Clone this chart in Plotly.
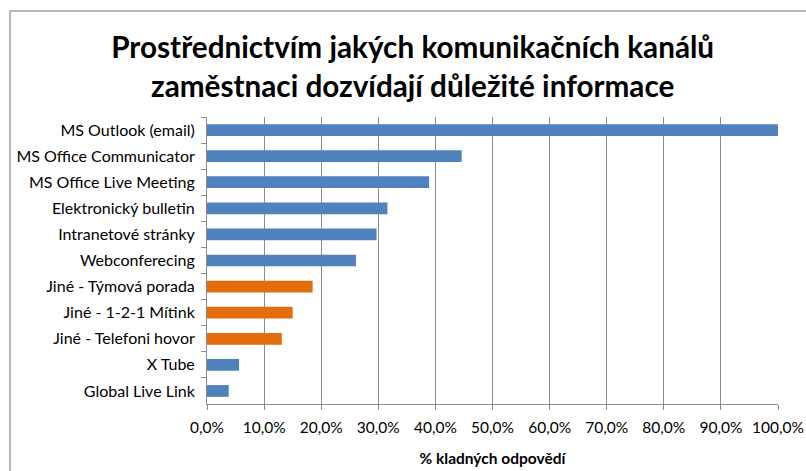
import plotly.graph_objects as go

# Channels and share of positive answers (%)
kanaly = ["MS Outlook (email)", "MS Office Communicator", "MS Office Live Meeting",
          "Elektronický bulletin", "Intranetové stránky", "Webconferecing",
          "Jiné - Týmová porada", "Jiné - 1-2-1 Mítink", "Jiné - Telefoni hovor",
          "X Tube", "Global Live Link"]
podil = [100.0, 44.6, 38.9, 31.6, 29.7, 26.1, 18.5, 15.0, 13.1, 5.6, 3.8]
skupina = ["nástroj"] * 6 + ["jiné"] * 3 + ["nástroj"] * 2

barvy = {"nástroj": "#4F81BD", "jiné": "#E46C0A"}
x_ticks = [0, 10, 20, 30, 40, 50, 60, 70, 80, 90, 100]
x_labels = [f"{v:.1f}%".replace(".", ",") for v in x_ticks]

FONT = "Lato, Open Sans, sans-serif"

fig = go.Figure(go.Bar(
    x=podil,
    y=kanaly,
    orientation="h",
    marker=dict(color=[barvy[s] for s in skupina], line_width=0),
    width=0.45,
))

fig.update_layout(
    width=806, height=471,
    margin=dict(l=207, r=28, t=117, b=67),
    paper_bgcolor="white", plot_bgcolor="white",
    font=dict(family=FONT, color="black", size=16),
    title=dict(
        text="<b>Prostřednictvím jakých komunikačních kanálů<br>zaměstnaci dozvídají důležité informace</b>",
        x=0.512, xanchor="center", y=0.877, yanchor="top",
        font=dict(size=29.7, family=FONT),
    ),
    showlegend=False,
)

fig.update_xaxes(
    range=[0, 100], tickvals=x_ticks, ticktext=x_labels,
    showgrid=True, gridcolor="#8C8C8C", gridwidth=1,
    showline=True, linecolor="#8C8C8C", linewidth=1,
    ticks="outside", ticklen=5, tickcolor="#8C8C8C",
    ticklabelstandoff=4, zeroline=False, tickfont=dict(size=15.5),
    title=dict(text="<b>% kladných odpovědí</b>", font=dict(size=15.5), standoff=18),
    automargin=False,
)
fig.update_yaxes(
    autorange="reversed", type="category",
    showline=True, linecolor="#8C8C8C", linewidth=1,
    ticks="outside", ticklen=5, tickcolor="#8C8C8C", tickson="boundaries",
    ticklabelstandoff=8, showgrid=False, automargin=False,
)

# chart frame
fig.add_shape(type="rect", xref="paper", yref="paper",
              x0=(10 - 207) / 571, x1=1.2, y0=-0.5, y1=1 + (117 - 11) / 287,
              line=dict(color="#A0A0A0", width=1.5), layer="above")

fig.write_html("out.html", config={"displayModeBar": False},
               post_script="document.body.style.margin='0';")
